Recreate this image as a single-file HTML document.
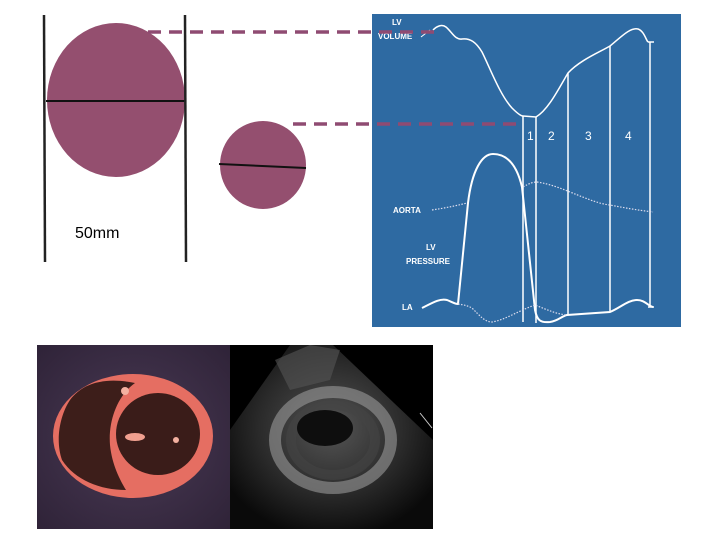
<!DOCTYPE html>
<html><head><style>body{margin:0;background:#fff}svg{display:block}</style></head>
<body>
<svg width="720" height="545" viewBox="0 0 720 545" xmlns="http://www.w3.org/2000/svg" font-family="Liberation Sans, sans-serif">
<defs>
<radialGradient id="bg1" cx="50%" cy="50%" r="70%"><stop offset="0" stop-color="#4a3a55"/><stop offset="1" stop-color="#2f2338"/></radialGradient>
<radialGradient id="us" cx="50%" cy="45%" r="60%"><stop offset="0" stop-color="#555"/><stop offset="0.6" stop-color="#2a2a2a"/><stop offset="1" stop-color="#0a0a0a"/></radialGradient>
</defs>
<ellipse cx="116" cy="100" rx="69" ry="77" fill="#944f6f"/>
<line x1="46" y1="101" x2="185" y2="101" stroke="#111" stroke-width="2"/>
<line x1="44" y1="15" x2="45" y2="262" stroke="#222" stroke-width="2.5"/>
<line x1="185" y1="15" x2="186" y2="262" stroke="#222" stroke-width="2.5"/>
<ellipse cx="263" cy="165" rx="43" ry="44" fill="#944f6f"/>
<line x1="219" y1="164" x2="306" y2="168" stroke="#111" stroke-width="2"/>
<text x="75" y="238" font-size="16" fill="#000">50mm</text>
<rect x="372" y="14" width="309" height="313" fill="#2e6aa2"/>
<g fill="none" stroke="#fff" stroke-width="1.5">
<path d="M433,30 C437,26 442,24 446,27 C452,32 455,40 462,39 C470,38 476,42 482,52 C490,68 500,95 512,108 C518,114 521,116 523,116 L536,117 C548,110 558,90 568,73 C580,60 600,52 610,46 C620,38 630,27 638,29 C644,31 646,40 648,42"/>
<path d="M523,116 V322 M536,117 V323 M568,73 V315 M610,46 V312 M650,42 V307 M648,42 H654 M648,307 H654"/>
<path d="M422,308 C432,303 440,298 447,300 C452,302 455,304 458,304 L468,203 C472,170 482,154 493,154 C510,154 518,170 522,187 L535,310 C537,320 540,323 550,322 C558,321 562,316 567,315 L610,312 C620,308 628,300 637,300 C645,300 648,306 653,307" stroke-width="2"/>
</g>
<g fill="none" stroke="#dde" stroke-width="1.2" stroke-dasharray="1.5,1.5">
<path d="M432,210 C445,208 455,206 467,203"/>
<path d="M523,187 C530,183 533,182 537,182 C550,184 560,188 570,192 C590,200 600,204 610,205 C630,209 645,211 653,212"/>
<path d="M458,304 C465,305 468,306 472,308 C480,316 485,322 492,322 C505,320 520,310 535,305 C548,310 556,314 567,315"/>
</g>
<line x1="421" y1="37" x2="430" y2="30" stroke="#fff" stroke-width="1"/>
<g fill="#fff" font-size="8" font-weight="bold">
<text x="392" y="25">LV</text>
<text x="378" y="39">VOLUME</text>
<text x="393" y="213">AORTA</text>
<text x="426" y="250">LV</text>
<text x="406" y="264">PRESSURE</text>
<text x="402" y="310">LA</text>
</g>
<g fill="#fff" font-size="12">
<text x="527" y="140">1</text><text x="548" y="140">2</text><text x="585" y="140">3</text><text x="625" y="140">4</text>
</g>
<line x1="148" y1="32" x2="435" y2="32" stroke="#8f4b72" stroke-width="3.5" stroke-dasharray="13,8"/>
<line x1="293" y1="124" x2="517" y2="124" stroke="#8f4b72" stroke-width="3.5" stroke-dasharray="13,8"/>
<rect x="37" y="345" width="193" height="184" fill="url(#bg1)"/>
<ellipse cx="133" cy="436" rx="80" ry="62" fill="#e56e62"/>
<path d="M70,400 C85,380 110,378 135,383 C118,395 108,420 110,445 C112,465 120,480 126,490 C100,490 75,480 62,460 C55,440 60,415 70,400Z" fill="#3d1e1a"/>
<ellipse cx="158" cy="434" rx="42" ry="41" fill="#3a1c19"/>
<ellipse cx="135" cy="437" rx="10" ry="4" fill="#f0a090"/>
<circle cx="125" cy="391" r="4" fill="#f3b0a0"/>
<circle cx="176" cy="440" r="3" fill="#f3b0a0"/>
<rect x="230" y="345" width="203" height="184" fill="#000"/>
<path d="M290,345 L333,345 L433,440 L433,529 L230,529 L230,430 Z" fill="url(#us)"/>
<path d="M275,360 L310,345 L340,350 L330,380 L290,390Z" fill="#555" opacity="0.6"/>
<ellipse cx="333" cy="440" rx="58" ry="48" fill="none" stroke="#999" stroke-width="12" opacity="0.6"/>
<ellipse cx="333" cy="440" rx="42" ry="35" fill="none" stroke="#444" stroke-width="10" opacity="0.6"/>
<ellipse cx="325" cy="428" rx="28" ry="18" fill="#0e0e0e"/>
<line x1="420" y1="413" x2="432" y2="428" stroke="#ccc" stroke-width="1"/>
</svg>
</body></html>
